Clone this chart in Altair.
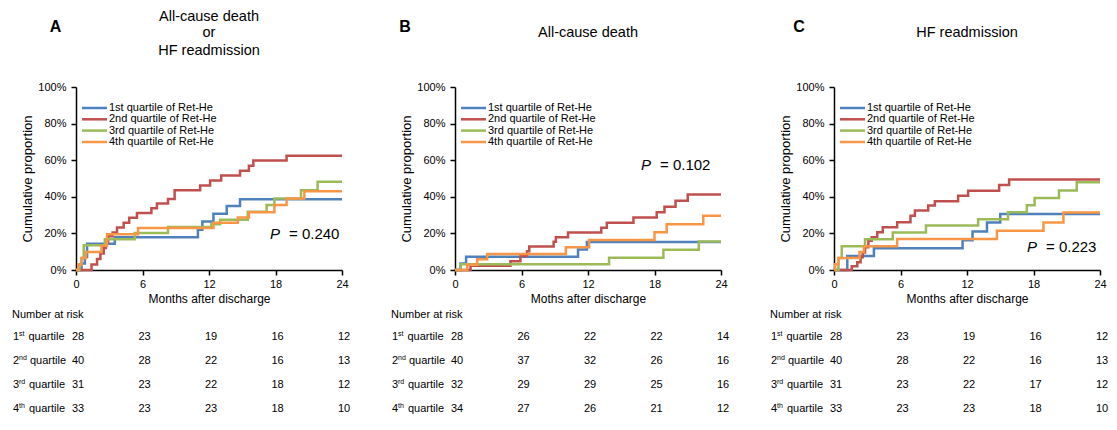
import altair as alt
import pandas as pd

FONT = "Liberation Sans"
MONTHS = [0, 6, 12, 18, 24]
Y_TICKS = [0, 20, 40, 60, 80, 100]
SERIES = ["1st quartile of Ret-He", "2nd quartile of Ret-He",
          "3rd quartile of Ret-He", "4th quartile of Ret-He"]
COLORS = ["#4F81BD", "#C0504D", "#9BBB59", "#F79646"]
ORDINALS = [("1", "st"), ("2", "nd"), ("3", "rd"), ("4", "th")]

# ---------------- Panel A: All-cause death or HF readmission ----------------
A_Q1_T = [0, 0.5, 0.8, 1.0, 3.5, 11.0, 11.4, 12.4, 13.6, 14.8, 24]
A_Q1_P = [0, 3.6, 7.1, 14.3, 17.9, 22.0, 26.5, 30.8, 35.0, 38.7, 38.7]
A_Q2_T = [0, 1.4, 1.9, 2.2, 2.5, 2.7, 2.9, 3.3, 3.7, 4.3, 4.8, 5.5, 6.8, 7.3, 8.3, 8.9,
          11.2, 12.1, 13.1, 14.8, 15.6, 16.0, 19.0, 24]
A_Q2_P = [0, 3.0, 6.0, 9.0, 12.0, 15.0, 18.5, 20.5, 23.2, 25.8, 28.5, 31.2, 33.8, 36.4,
          38.8, 43.6, 46.2, 48.9, 51.6, 54.3, 57.0, 59.8, 62.5, 62.5]
A_Q3_T = [0, 0.3, 0.5, 0.7, 2.6, 5.3, 8.3, 12.2, 13.0, 15.5, 17.2, 17.9, 20.3, 21.8, 24]
A_Q3_P = [0, 3.2, 6.5, 13.5, 16.8, 20.2, 23.5, 25.0, 27.5, 31.8, 35.5, 39.1, 43.6, 48.2, 48.2]
A_Q4_T = [0, 0.2, 0.5, 0.9, 2.3, 2.8, 5.6, 12.4, 14.6, 15.6, 17.9, 19.0, 20.6, 24]
A_Q4_P = [0, 3.0, 6.5, 9.8, 13.2, 19.5, 23.0, 25.8, 28.7, 31.5, 35.5, 39.1, 43.0, 43.0]
A_RISK = [[28, 23, 19, 16, 12], [40, 28, 22, 16, 13], [31, 23, 22, 18, 12], [33, 23, 23, 18, 10]]

# ---------------- Panel B: All-cause death ----------------
B_Q1_T = [0, 0.5, 1.0, 11.1, 11.9, 24]
B_Q1_P = [0, 3.6, 7.3, 11.2, 15.3, 15.3]
B_Q2_T = [0, 1.4, 5.0, 5.9, 6.5, 6.7, 8.9, 9.1, 10.2, 13.2, 13.7, 16.1, 18.2, 18.9, 19.9, 21.0, 24]
B_Q2_P = [0, 2.3, 4.8, 7.6, 10.2, 12.8, 15.4, 17.9, 20.5, 23.1, 25.8, 28.7, 31.6, 34.6, 37.9, 41.2, 41.2]
B_Q3_T = [0, 0.5, 13.9, 18.8, 22.0, 24]
B_Q3_P = [0, 3.1, 6.7, 11.0, 15.6, 15.6]
B_Q4_T = [0, 1.1, 2.0, 2.9, 10.0, 12.1, 18.0, 19.1, 22.4, 24]
B_Q4_P = [0, 2.9, 5.9, 8.8, 12.5, 16.4, 20.6, 25.0, 29.7, 29.7]
B_RISK = [[28, 26, 22, 22, 14], [40, 37, 32, 26, 16], [32, 29, 29, 25, 16], [34, 27, 26, 21, 12]]

# ---------------- Panel C: HF readmission ----------------
C_Q1_T = [0, 1.2, 3.6, 11.6, 12.5, 13.8, 15.0, 24]
C_Q1_P = [0, 7.7, 11.9, 16.3, 21.1, 26.0, 30.6, 30.6]
C_Q2_T = [0, 1.6, 2.1, 2.4, 2.6, 2.8, 3.1, 3.4, 3.9, 4.4, 5.7, 6.9, 7.3, 8.5, 9.1, 11.2,
          12.1, 14.9, 15.8, 24]
C_Q2_P = [0, 2.0, 4.3, 6.9, 9.6, 12.4, 16.0, 17.9, 20.6, 23.3, 26.1, 29.7, 32.5, 35.2,
          37.6, 40.6, 43.3, 46.4, 49.5, 49.5]
C_Q3_T = [0, 0.4, 0.7, 2.8, 5.3, 8.3, 13.0, 15.7, 17.4, 18.1, 20.3, 21.9, 24]
C_Q3_P = [0, 6.5, 13.0, 16.8, 20.5, 24.3, 27.8, 31.6, 35.4, 39.4, 43.4, 48.0, 48.0]
C_Q4_T = [0, 0.1, 0.4, 2.3, 2.7, 5.7, 14.7, 18.9, 20.7, 24]
C_Q4_P = [0, 3.2, 6.5, 9.8, 13.0, 17.0, 21.4, 26.0, 31.4, 31.4]
C_RISK = [[28, 23, 19, 16, 12], [40, 28, 22, 16, 13], [31, 23, 22, 17, 12], [33, 23, 23, 18, 10]]

W, H = 266, 183
ONE = pd.DataFrame({"k": [0]})
LEG_Y = [21, 32.3, 43.6, 55]
ROW_Y = [249.5, 273.5, 297.5, 321.5]
HEADER_Y = 227.5
SUP_X = {"st": -47.5, "nd": -46, "rd": -47, "th": -47}


def txt(x, y, s, size=11, **kw):
    return alt.Chart(ONE).mark_text(font=FONT, fontSize=size, color="black", **kw).encode(
        x=alt.value(x), y=alt.value(y), text=alt.value(s))


def panel(curves, risk, title_lines, title_y, letter, letter_x, xtitle, pval, p_x, p_y):
    rows = []
    for name, (ts, ps) in zip(SERIES, curves):
        for t, p in zip(ts, ps):
            rows.append({"series": name, "t": t, "p": p})
    df = pd.DataFrame(rows)

    x_enc = alt.X("t:Q", scale=alt.Scale(domain=[0, 24], nice=False, zero=False),
                  axis=alt.Axis(values=MONTHS, title=xtitle, labelFlush=False,
                                labelPadding=3, titlePadding=4, titleFontSize=12,
                                labelOverlap=False))
    lines = alt.Chart(df).mark_line(interpolate="step-after", strokeWidth=2.5).encode(
        x=x_enc,
        y=alt.Y("p:Q", scale=alt.Scale(domain=[0, 100], nice=False),
                axis=alt.Axis(values=Y_TICKS, labelExpr="datum.value + '%'",
                              title="Cumulative proportion", labelPadding=5,
                              titlePadding=3, titleFontSize=13, labelOverlap=False)),
        color=alt.Color("series:N", scale=alt.Scale(domain=SERIES, range=COLORS), legend=None),
    )
    layers = [lines]

    # legend
    for i, name in enumerate(SERIES):
        layers.append(alt.Chart(ONE).mark_rule(strokeWidth=2.5, color=COLORS[i]).encode(
            x=alt.value(6), x2=alt.value(31), y=alt.value(LEG_Y[i])))
        layers.append(txt(33, LEG_Y[i], name, 11, align="left"))

    # P value
    layers.append(txt(p_x, p_y, "P", 15, align="left", fontStyle="italic"))
    layers.append(txt(p_x + 19, p_y, pval, 15, align="left"))

    # titles
    layers.append(txt(letter_x, -60, letter, 16, fontWeight="bold"))
    for line, ty in zip(title_lines, title_y):
        layers.append(txt(W / 2, ty, line, 14.5))

    # number at risk table
    layers.append(txt(-64, HEADER_Y, "Number at risk", 11, align="left"))
    for i, vals in enumerate(risk):
        num, sup = ORDINALS[i]
        layers.append(txt(-63, ROW_Y[i], num, 11, align="left"))
        layers.append(txt(-57, ROW_Y[i] - 3, sup, 7, align="left"))
        layers.append(txt(SUP_X[sup], ROW_Y[i], "quartile", 11, align="left"))
        d = pd.DataFrame({"t": MONTHS, "n": vals})
        layers.append(alt.Chart(d).mark_text(font=FONT, fontSize=11, color="black", dx=2).encode(
            x=x_enc, y=alt.value(ROW_Y[i]), text="n:Q"))

    return alt.layer(*layers).properties(width=W, height=H)


pA = panel([(A_Q1_T, A_Q1_P), (A_Q2_T, A_Q2_P), (A_Q3_T, A_Q3_P), (A_Q4_T, A_Q4_P)], A_RISK,
           ["All-cause death", "or", "HF readmission"], [-70.2, -54.5, -36.5],
           "A", -20.5, "Months after discharge", "= 0.240", 194, 147)
pB = panel([(B_Q1_T, B_Q1_P), (B_Q2_T, B_Q2_P), (B_Q3_T, B_Q3_P), (B_Q4_T, B_Q4_P)], B_RISK,
           ["All-cause death"], [-54.5],
           "B", -50, "Moths after discharge", "= 0.102", 186, 78)
pC = panel([(C_Q1_T, C_Q1_P), (C_Q2_T, C_Q2_P), (C_Q3_T, C_Q3_P), (C_Q4_T, C_Q4_P)], C_RISK,
           ["HF readmission"], [-54.5],
           "C", -35, "Months after discharge", "= 0.223", 193, 160)

chart = alt.hconcat(pA, pB, pC, spacing=113, bounds="flush").properties(
    padding={"left": 4, "top": 0, "right": 0, "bottom": 0}
).configure_view(stroke=None).configure_axis(
    domainColor="black", domainWidth=1.5, tickColor="black", tickWidth=1.5, tickSize=5,
    labelFont=FONT, labelFontSize=11, labelColor="black", titleFont=FONT,
    titleFontWeight="normal", titleColor="black", grid=False
)

chart.save("out.html", embed_options={"renderer": "svg", "actions": False})
